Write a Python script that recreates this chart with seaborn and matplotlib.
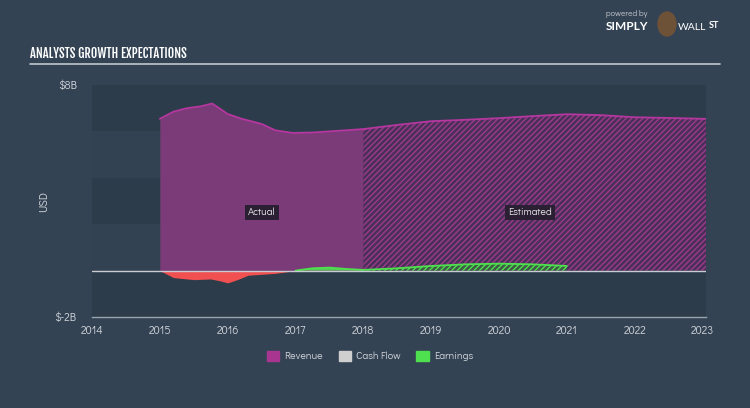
import numpy as np
import pandas as pd
import matplotlib
matplotlib.use("Agg")
import matplotlib.pyplot as plt
import matplotlib.patches as mpatches
import seaborn as sns

###-------DATA------###

# revenue (USD billions), actual part
rev_act_x = [2015.0, 2015.2, 2015.4, 2015.6, 2015.77, 2015.85, 2016.0, 2016.2, 2016.5, 2016.7, 2016.96, 2017.25, 2017.65, 2018.0]
rev_act_y = [6.54, 6.85, 7.0, 7.08, 7.2, 7.05, 6.75, 6.55, 6.32, 6.05, 5.93, 5.95, 6.03, 6.1]

# revenue, analyst estimates
rev_est_x = [2018.0, 2018.5, 2019.0, 2019.5, 2020.0, 2020.5, 2021.0, 2021.5, 2022.0, 2022.5, 2023.05]
rev_est_y = [6.1, 6.28, 6.44, 6.5, 6.57, 6.66, 6.74, 6.7, 6.61, 6.58, 6.54]

# earnings (USD billions)
earn_act_x = [2015.0, 2015.2, 2015.5, 2015.75, 2015.9, 2016.0, 2016.15, 2016.3, 2016.7, 2017.0, 2017.25, 2017.5, 2017.75, 2018.0]
earn_act_y = [0.0, -0.3, -0.39, -0.36, -0.45, -0.53, -0.38, -0.2, -0.12, 0.0, 0.1, 0.13, 0.07, 0.03]
earn_est_x = [2018.0, 2018.5, 2019.0, 2019.5, 2020.0, 2020.5, 2021.0]
earn_est_y = [0.03, 0.1, 0.2, 0.27, 0.3, 0.27, 0.2]

year_ticks = list(range(2014, 2024))
y_ticks = [-2, 8]
y_tick_labels = ["$-2B", "$8B"]

###-------STYLE------###
bg = "#344354"
band_dark = "#2d3c4a"
band_light = "#334253"
txt = "#d2d6db"
rev_line = "#b5379f"
rev_fill = "#7b3a78"
earn_green = "#4ee04e"
earn_red = "#f05050"

sns.set_style("dark", {"axes.facecolor": bg, "figure.facecolor": bg})
plt.rcParams["font.family"] = ["Didact Gothic", "DejaVu Sans"]
plt.rcParams["hatch.linewidth"] = 1.0

fig = plt.figure(figsize=(7.5, 4.08), dpi=100)
fig.patch.set_facecolor(bg)
ax = fig.add_axes([92 / 750, (408 - 317) / 408, (706 - 92) / 750, (317 - 85) / 408])
ax.set_facecolor(bg)

# horizontal bands
for k, lo in enumerate(range(-2, 8, 2)):
    ax.axhspan(lo, lo + 2, color=band_dark if k % 2 == 0 else band_light, lw=0, zorder=0)

# revenue fills
ax.fill_between(rev_act_x, 0, rev_act_y, color=rev_fill, lw=0, zorder=2)
ax.fill_between(rev_est_x, 0, rev_est_y, facecolor="#4a2f58", edgecolor="#9c3a8c",
                hatch="//////", lw=0, zorder=2)

# earnings fills
ea_x = np.array(earn_act_x)
ea_y = np.array(earn_act_y)
ax.fill_between(ea_x, 0, ea_y, where=ea_y <= 0, color=earn_red, lw=0, zorder=3, interpolate=True)
ax.fill_between(ea_x, 0, ea_y, where=ea_y >= 0, color=earn_green, lw=0, zorder=3, interpolate=True, alpha=0.9)
ax.fill_between(earn_est_x, 0, earn_est_y, facecolor="#3d5a45", edgecolor=earn_green,
                hatch="//////", lw=0, zorder=3)

# lines
rev_df = pd.DataFrame({"x": rev_act_x + rev_est_x[1:], "y": rev_act_y + rev_est_y[1:]})
sns.lineplot(data=rev_df, x="x", y="y", color=rev_line, lw=1.3, ax=ax, zorder=4)
earn_df = pd.DataFrame({"x": earn_act_x[9:] + earn_est_x[1:], "y": earn_act_y[9:] + earn_est_y[1:]})
sns.lineplot(data=earn_df, x="x", y="y", color=earn_green, lw=1.3, ax=ax, zorder=4)

# zero line
ax.axhline(0, color="#c8ccd0", lw=1.0, zorder=5)

ax.set_xlim(2014, 2023.05)
ax.set_ylim(-2, 8)
ax.set_xticks(year_ticks)
ax.set_xticklabels([str(y) for y in year_ticks])
ax.set_yticks(y_ticks)
ax.set_yticklabels(y_tick_labels)
ax.tick_params(axis="x", colors="#9aa4ae", labelcolor=txt, labelsize=8, length=5, width=1, direction="out", pad=1)
ax.tick_params(axis="y", colors=txt, labelsize=8, length=0, pad=11)
for s in ["top", "right", "left"]:
    ax.spines[s].set_visible(False)
ax.spines["bottom"].set_color("#9aa4ae")
ax.spines["bottom"].set_linewidth(1)
ax.set_xlabel("")
ax.set_ylabel("USD", color=txt, fontsize=8, labelpad=4)
ax.grid(False)

# Actual / Estimated labels
box = dict(boxstyle="square,pad=0.3", fc="#2a1f33", ec="none")
ax.text(2016.5, 2.5, "Actual", color="#e8e8ea", fontsize=7.5, ha="center", va="center", bbox=box, zorder=6)
ax.text(2020.45, 2.5, "Estimated", color="#e8e8ea", fontsize=7.5, ha="center", va="center", bbox=box, zorder=6)

# title and rule
fig.text(30 / 750, 1 - 53 / 408, "ANALYSTS GROWTH EXPECTATIONS", color="white", fontsize=9,
         family=["Fjalla One", "DejaVu Sans"], va="center", ha="left")
fig.add_artist(plt.Line2D([30 / 750, 720 / 750], [1 - 64 / 408, 1 - 64 / 408], color="#c0c6cc", lw=1.2))

# logo
fig.add_artist(mpatches.Ellipse((667 / 750, 1 - 24 / 408), 18 / 750, 24 / 408, transform=fig.transFigure,
                                color="#6e5238", zorder=1))
fig.text(606 / 750, 1 - 14 / 408, "powered by", color="#c8ccd0", fontsize=6, ha="left", va="center", zorder=2)
fig.text(606 / 750, 1 - 27 / 408, "SIMPLY", color="white", fontsize=8.5, fontweight="bold",
         family=["Lato", "DejaVu Sans"], ha="left", va="center", zorder=2)
fig.text(678 / 750, 1 - 27 / 408, "WALL", color="white", fontsize=7.5,
         family=["Lato", "DejaVu Sans"], ha="left", va="center", zorder=2)
fig.text(709 / 750, 1 - 26 / 408, "ST", color="white", fontsize=6.5, fontweight="bold",
         family=["Lato", "DejaVu Sans"], ha="left", va="center", zorder=2)

# legend
handles = [mpatches.Patch(color="#a8358f", label="Revenue"),
           mpatches.Patch(color="#cfcfcf", label="Cash Flow"),
           mpatches.Patch(color=earn_green, label="Earnings")]
leg = fig.legend(handles=handles, loc="center", bbox_to_anchor=(370 / 750, 1 - 356 / 408), ncol=3,
                 frameon=False, fontsize=7.5, handlelength=1.2, handleheight=1.2, columnspacing=1.5,
                 handletextpad=0.5)
for t in leg.get_texts():
    t.set_color(txt)

fig.savefig("out.png", dpi=100, facecolor=bg)
